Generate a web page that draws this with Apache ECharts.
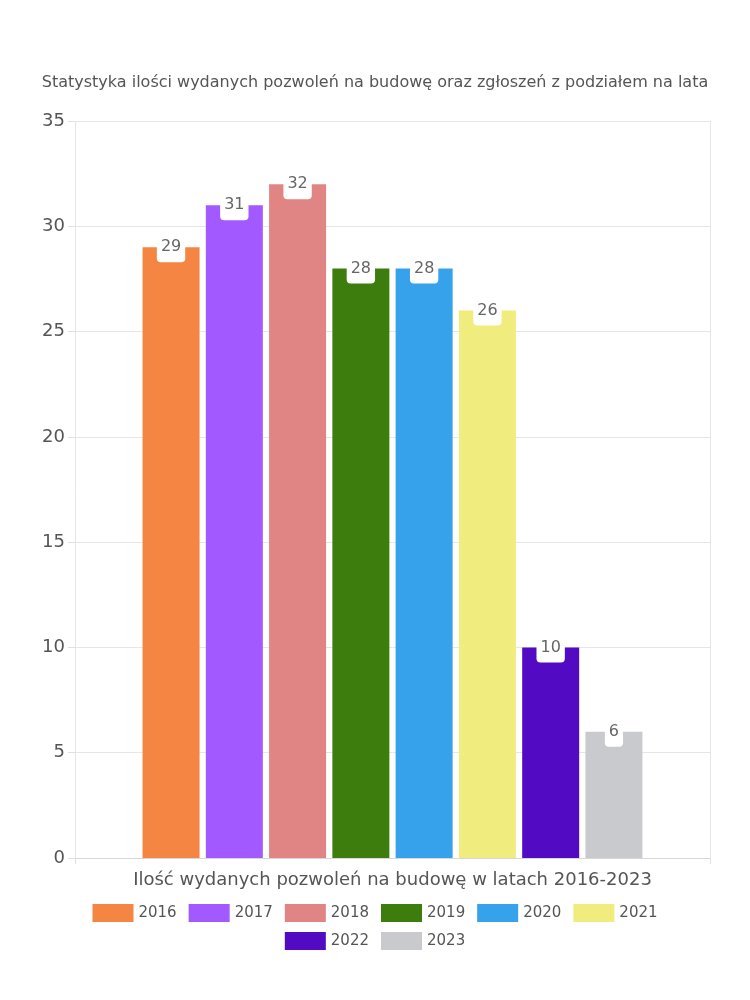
<!DOCTYPE html>
<html><head><meta charset="utf-8">
<script src="https://cdn.jsdelivr.net/npm/echarts@6/dist/echarts.min.js"></script>
<style>html,body{margin:0;padding:0;background:#fff}#c{width:750px;height:1000px}</style>
</head><body><div id="c"></div>
<script>
const titleText = 'Statystyka ilości wydanych pozwoleń na budowę oraz zgłoszeń z podziałem na lata';
const categories = ['Ilość wydanych pozwoleń na budowę w latach 2016-2023'];
const years = ['2016','2017','2018','2019','2020','2021','2022','2023'];
const values = [29, 31, 32, 28, 28, 26, 10, 6];
const colors = ['#F58542','#A259FF','#E08484','#3D7D0E','#36A2EB','#F0EC7E','#520BC2','#C9CACE'];
const yTicks = { min: 0, max: 35, interval: 5 };

const font = '"DejaVu Sans", sans-serif';
const legendBase = {
  left: 'center', icon: 'rect',
  itemWidth: 41, itemHeight: 18, itemGap: 12,
  textStyle: { fontFamily: font, fontSize: 15, color: '#555' }
};
const chart = echarts.init(document.getElementById('c'));
chart.setOption({
  animation: false,
  textStyle: { fontFamily: font },
  title: { text: titleText, left: 'center', top: 70, textStyle: { fontFamily: font, fontSize: 16, fontWeight: 'normal', color: '#555' } },
  grid: { left: 75, right: 40, top: 121, bottom: 142 },
  legend: [
    Object.assign({}, legendBase, { top: 899, data: years.slice(0, 6) }),
    Object.assign({}, legendBase, { top: 927, data: years.slice(6) })
  ],
  xAxis: {
    type: 'category', data: categories,
    axisLine: { lineStyle: { color: '#d8d8d8' } },
    axisTick: { show: true, length: 6, lineStyle: { color: '#e0e0e0' } },
    splitLine: { show: true, lineStyle: { color: '#e6e6e6' } },
    axisLabel: { fontFamily: font, fontSize: 18, color: '#555', margin: 13 }
  },
  yAxis: {
    type: 'value', min: yTicks.min, max: yTicks.max, interval: yTicks.interval,
    axisLine: { show: false },
    axisTick: { show: true, length: 7, lineStyle: { color: '#e0e0e0' } },
    splitLine: { lineStyle: { color: '#e6e6e6' } },
    axisLabel: { fontFamily: font, fontSize: 18, color: '#555', margin: 10 }
  },
  series: years.map((y, i) => ({
    name: y, type: 'bar',
    data: [values[i]],
    barWidth: 57, barGap: '11%',
    itemStyle: { color: colors[i] },
    label: {
      show: true, position: 'insideTop', distance: 0, offset: [0, -10],
      backgroundColor: '#fff', borderRadius: [0, 0, 4, 4],
      padding: [2, 4, 7, 4],
      fontFamily: font, fontSize: 16, color: '#666'
    }
  }))
});
</script></body></html>
